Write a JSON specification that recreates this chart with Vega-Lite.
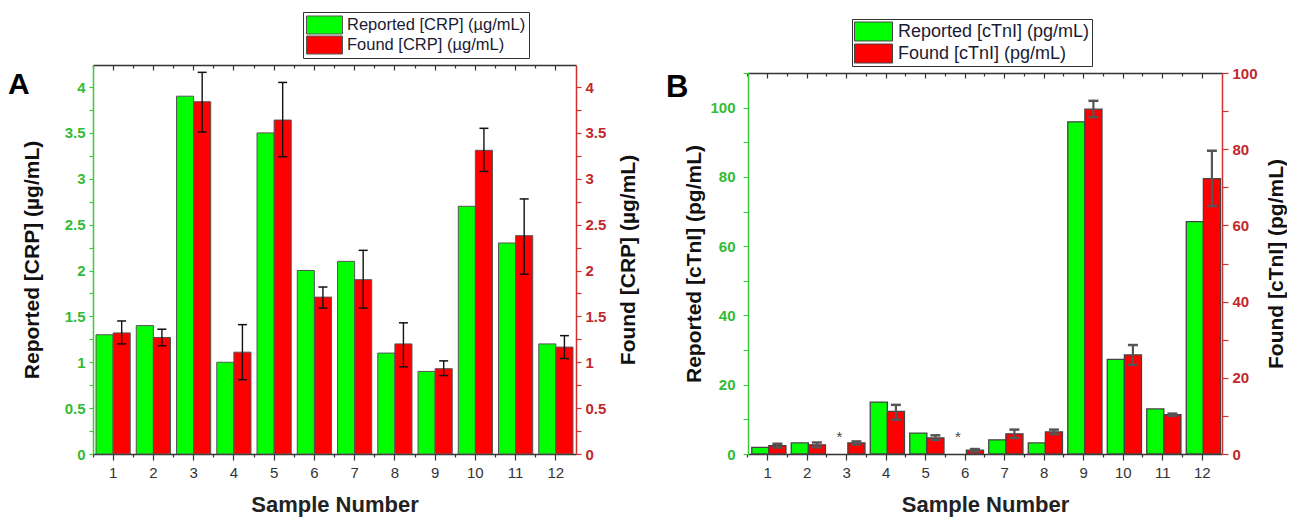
{
  "$schema": "https://vega.github.io/schema/vega-lite/v6.json",
  "background": "white",
  "padding": {"left": 8, "top": 11, "right": 0, "bottom": 0},
  "config": {
    "view": {"stroke": null},
    "font": "Liberation Sans",
    "axis": {"grid": false, "labelFont": "Liberation Sans", "titleFont": "Liberation Sans"},
    "legend": {"labelFont": "Liberation Sans"}
  },
  "center": true,
  "spacing": 27,
  "resolve": {"scale": {"color": "independent"}, "legend": {"color": "independent"}},
  "hconcat": [
    {
      "width": 483,
      "height": 389,
      "title": {"text": "A", "anchor": "start", "frame": "group", "align": "left", "baseline": "alphabetic", "fontSize": 30, "fontWeight": "bold", "font": "Liberation Sans", "color": "#000", "offset": 0, "dx": -85, "dy": 112},
      "data": {"values": [
        {"s": 1, "rep": 1.3, "found": 1.32, "lo": 1.2, "hi": 1.45},
        {"s": 2, "rep": 1.4, "found": 1.27, "lo": 1.18, "hi": 1.36},
        {"s": 3, "rep": 3.9, "found": 3.84, "lo": 3.51, "hi": 4.16},
        {"s": 4, "rep": 1.0, "found": 1.11, "lo": 0.81, "hi": 1.41},
        {"s": 5, "rep": 3.5, "found": 3.64, "lo": 3.24, "hi": 4.05},
        {"s": 6, "rep": 2.0, "found": 1.71, "lo": 1.59, "hi": 1.82},
        {"s": 7, "rep": 2.1, "found": 1.9, "lo": 1.59, "hi": 2.22},
        {"s": 8, "rep": 1.1, "found": 1.2, "lo": 0.95, "hi": 1.43},
        {"s": 9, "rep": 0.9, "found": 0.93, "lo": 0.855, "hi": 1.015},
        {"s": 10, "rep": 2.7, "found": 3.31, "lo": 3.08, "hi": 3.55},
        {"s": 11, "rep": 2.3, "found": 2.38, "lo": 1.96, "hi": 2.78},
        {"s": 12, "rep": 1.2, "found": 1.165, "lo": 1.04, "hi": 1.29}
      ]},
      "encoding": {
        "x": {"field": "s", "type": "ordinal", "scale": {"domain": [1,2,3,4,5,6,7,8,9,10,11,12], "paddingInner": 0.15, "paddingOuter": 0.075}}
      },
      "resolve": {"scale": {"y": "independent"}, "axis": {"x": "independent", "y": "independent"}},
      "layer": [
        {
          "mark": {"type": "bar", "stroke": "#555", "strokeWidth": 1},
          "encoding": {
            "x": {"field": "s", "type": "ordinal", "axis": {"orient": "bottom", "title": ["Sample Number", " "], "titleLineHeight": 8, "labelAngle": 0, "titleFontSize": 22, "titleFontWeight": "bold", "titleColor": "#222", "titlePadding": 14,
                "labelColor": "#333", "labelFontSize": 15, "labelPadding": 5, "domainColor": "#333", "domainWidth": 1.5, "tickColor": "#333", "tickSize": 6, "tickWidth": 1.2}},
            "xOffset": {"datum": "Reported", "type": "nominal", "scale": {"domain": ["Reported", "Found"], "paddingInner": 0, "paddingOuter": 0}},
            "y": {"field": "rep", "type": "quantitative", "scale": {"domain": [0, 4.24], "nice": false, "zero": false},
              "axis": {"orient": "left", "values": [0,0.25,0.5,0.75,1,1.25,1.5,1.75,2,2.25,2.5,2.75,3,3.25,3.5,3.75,4], "format": "~g", "labelExpr": "datum.value % 0.5 === 0 ? datum.label : ''",
                "title": "Reported [CRP] (µg/mL)", "titleFontSize": 21, "titleFontWeight": "bold", "titleColor": "#111", "titlePadding": 22,
                "labelColor": "#33BB33", "labelFontSize": 15, "labelFontWeight": "bold", "labelPadding": 4,
                "domainColor": "#3CCB3C", "domainWidth": 1.5, "tickColor": "#3CCB3C", "tickSize": 4, "tickWidth": 1.2}},
            "color": {"datum": "Reported [CRP] (µg/mL)", "type": "nominal",
              "scale": {"domain": ["Reported [CRP] (µg/mL)", "Found [CRP] (µg/mL)"], "range": ["#00FF00", "#FF0000"]},
              "legend": {"orient": "none", "legendX": 210, "legendY": -53, "title": null, "direction": "vertical",
                "symbolType": "M-1,-0.5H1V0.5H-1Z", "symbolSize": 1296, "symbolStrokeColor": "#444", "symbolStrokeWidth": 1, "symbolOpacity": 1,
                "clipHeight": 20, "rowPadding": 0, "labelFontSize": 16.5, "labelLimit": 400, "labelColor": "#1a1a33", "labelOffset": 4,
                "strokeColor": "#333", "fillColor": "white", "padding": 3}}
          }
        },
        {
          "mark": {"type": "bar", "stroke": "#555", "strokeWidth": 1},
          "encoding": {
            "x": {"field": "s", "type": "ordinal", "axis": {"orient": "top", "title": null, "labels": false, "domainColor": "#333", "domainWidth": 1.5, "tickColor": "#333", "tickSize": -5, "tickWidth": 1.2}},
            "xOffset": {"datum": "Found", "type": "nominal", "scale": {"domain": ["Reported", "Found"], "paddingInner": 0, "paddingOuter": 0}},
            "y": {"field": "found", "type": "quantitative", "scale": {"domain": [0, 4.24], "nice": false, "zero": false},
              "axis": {"orient": "right", "values": [0,0.25,0.5,0.75,1,1.25,1.5,1.75,2,2.25,2.5,2.75,3,3.25,3.5,3.75,4], "format": "~g", "labelExpr": "datum.value % 0.5 === 0 ? datum.label : ''",
                "title": "Found [CRP] (µg/mL)", "titleAngle": 270, "titleFontSize": 21, "titleFontWeight": "bold", "titleColor": "#111", "titlePadding": 33,
                "labelColor": "#C0282D", "labelFontSize": 15, "labelFontWeight": "bold", "labelPadding": 4,
                "domainColor": "#D03030", "domainWidth": 1.5, "tickColor": "#D03030", "tickSize": 5, "tickWidth": 1.2}},
            "color": {"datum": "Found [CRP] (µg/mL)", "type": "nominal"}
          }
        },
        {
          "mark": {"type": "rule", "color": "#111", "strokeWidth": 1.4},
          "encoding": {
            "x": {"field": "s", "type": "ordinal", "axis": {"orient": "bottom", "bandPosition": -0.0882, "title": null, "labels": false, "domain": false, "tickColor": "#333", "tickSize": 3, "tickWidth": 1.2}},
            "xOffset": {"datum": "Found", "type": "nominal", "scale": {"domain": ["Reported", "Found"], "paddingInner": 0, "paddingOuter": 0}},
            "y": {"field": "lo", "type": "quantitative", "scale": {"domain": [0, 4.24], "nice": false, "zero": false}, "axis": null},
            "y2": {"field": "hi"}
          }
        },
        {
          "mark": {"type": "tick", "color": "#111", "size": 9, "thickness": 1.5, "opacity": 1},
          "encoding": {
            "x": {"field": "s", "type": "ordinal", "axis": {"orient": "top", "bandPosition": -0.0882, "title": null, "labels": false, "domain": false, "tickColor": "#333", "tickSize": -3, "tickWidth": 1.2}},
            "xOffset": {"datum": "Found", "type": "nominal", "scale": {"domain": ["Reported", "Found"], "paddingInner": 0, "paddingOuter": 0}},
            "y": {"field": "lo", "type": "quantitative", "scale": {"domain": [0, 4.24], "nice": false, "zero": false}, "axis": null}
          }
        },
        {
          "mark": {"type": "tick", "color": "#111", "size": 9, "thickness": 1.5, "opacity": 1},
          "encoding": {
            "x": {"field": "s", "type": "ordinal", "axis": null},
            "xOffset": {"datum": "Found", "type": "nominal", "scale": {"domain": ["Reported", "Found"], "paddingInner": 0, "paddingOuter": 0}},
            "y": {"field": "hi", "type": "quantitative", "scale": {"domain": [0, 4.24], "nice": false, "zero": false}, "axis": null}
          }
        }
      ]
    },
    {
      "width": 474,
      "height": 381,
      "title": {"text": [" ", "B"], "lineHeight": 59, "anchor": "start", "frame": "group", "align": "left", "baseline": "alphabetic", "fontSize": 31, "fontWeight": "bold", "font": "Liberation Sans", "color": "#000", "offset": 0, "dx": -82, "dy": 109},
      "data": {"values": [
        {"s": 1, "rep": 1.9, "found": 2.2, "lo": 1.7, "hi": 2.7, "note": ""},
        {"s": 2, "rep": 3.2, "found": 2.4, "lo": 1.8, "hi": 3.0, "note": ""},
        {"s": 3, "rep": null, "found": 2.9, "lo": 2.5, "hi": 3.3, "note": "*"},
        {"s": 4, "rep": 15.0, "found": 11.2, "lo": 9.0, "hi": 12.9, "note": ""},
        {"s": 5, "rep": 6.0, "found": 4.2, "lo": 3.7, "hi": 4.9, "note": ""},
        {"s": 6, "rep": null, "found": 1.0, "lo": 0.7, "hi": 1.3, "note": "*"},
        {"s": 7, "rep": 4.1, "found": 5.3, "lo": 4.2, "hi": 6.4, "note": ""},
        {"s": 8, "rep": 3.2, "found": 5.8, "lo": 5.2, "hi": 6.4, "note": ""},
        {"s": 9, "rep": 95.9, "found": 90.5, "lo": 88.4, "hi": 92.7, "note": ""},
        {"s": 10, "rep": 27.3, "found": 26.0, "lo": 23.4, "hi": 28.6, "note": ""},
        {"s": 11, "rep": 13.0, "found": 10.3, "lo": 10.0, "hi": 10.6, "note": ""},
        {"s": 12, "rep": 67.1, "found": 72.3, "lo": 65.1, "hi": 79.6, "note": ""}
      ]},
      "encoding": {
        "x": {"field": "s", "type": "ordinal", "scale": {"domain": [1,2,3,4,5,6,7,8,9,10,11,12], "paddingInner": 0.19, "paddingOuter": 0.095}}
      },
      "resolve": {"scale": {"y": "independent"}, "axis": {"x": "independent", "y": "independent"}},
      "layer": [
        {
          "mark": {"type": "bar", "stroke": "#444", "strokeWidth": 1.3},
          "encoding": {
            "x": {"field": "s", "type": "ordinal", "axis": {"orient": "bottom", "title": "Sample Number", "labelAngle": 0, "titleFontSize": 22, "titleFontWeight": "bold", "titleColor": "#222", "titlePadding": 14,
                "labelColor": "#333", "labelFontSize": 15, "labelPadding": 5, "domainColor": "#333", "domainWidth": 1.5, "tickColor": "#333", "tickSize": 6, "tickWidth": 1.2}},
            "xOffset": {"datum": "Reported", "type": "nominal", "scale": {"domain": ["Reported", "Found"], "paddingInner": 0, "paddingOuter": 0}},
            "y": {"field": "rep", "type": "quantitative", "scale": {"domain": [0, 110], "nice": false, "zero": false},
              "axis": {"orient": "left", "values": [0,10,20,30,40,50,60,70,80,90,100,110], "labelExpr": "datum.value % 20 === 0 && datum.value <= 100 ? datum.label : ''",
                "title": "Reported [cTnI] (pg/mL)", "titleFontSize": 21, "titleFontWeight": "bold", "titleColor": "#111", "titlePadding": 5,
                "labelColor": "#33BB33", "labelFontSize": 15, "labelFontWeight": "bold", "labelPadding": 8,
                "domainColor": "#3CCB3C", "domainWidth": 1.5, "tickColor": "#3CCB3C", "tickSize": 5, "tickWidth": 1.2}},
            "color": {"datum": "Reported [cTnI] (pg/mL)", "type": "nominal",
              "scale": {"domain": ["Reported [cTnI] (pg/mL)", "Found [cTnI] (pg/mL)"], "range": ["#00FF00", "#FF0000"]},
              "legend": {"orient": "none", "legendX": 104, "legendY": -54, "title": null, "direction": "vertical",
                "symbolType": "M-1,-0.5H1V0.5H-1Z", "symbolSize": 1444, "symbolStrokeColor": "#444", "symbolStrokeWidth": 1, "symbolOpacity": 1,
                "clipHeight": 21, "rowPadding": 1, "labelFontSize": 18, "labelLimit": 400, "labelColor": "#1a1a33", "labelOffset": 5,
                "strokeColor": "#333", "fillColor": "white", "padding": 2}}
          }
        },
        {
          "mark": {"type": "bar", "stroke": "#444", "strokeWidth": 1.3},
          "encoding": {
            "x": {"field": "s", "type": "ordinal", "axis": {"orient": "top", "title": null, "labels": false, "domainColor": "#333", "domainWidth": 1.5, "tickColor": "#333", "tickSize": -5, "tickWidth": 1.2}},
            "xOffset": {"datum": "Found", "type": "nominal", "scale": {"domain": ["Reported", "Found"], "paddingInner": 0, "paddingOuter": 0}},
            "y": {"field": "found", "type": "quantitative", "scale": {"domain": [0, 100], "nice": false, "zero": false},
              "axis": {"orient": "right", "values": [0,10,20,30,40,50,60,70,80,90,100], "labelExpr": "datum.value % 20 === 0 ? datum.label : ''",
                "title": "Found [cTnI] (pg/mL)", "titleAngle": 270, "titleFontSize": 21, "titleFontWeight": "bold", "titleColor": "#111", "titlePadding": 29,
                "labelColor": "#C0282D", "labelFontSize": 15, "labelFontWeight": "bold", "labelPadding": 4,
                "domainColor": "#D03030", "domainWidth": 1.5, "tickColor": "#D03030", "tickSize": 6, "tickWidth": 1.2}},
            "color": {"datum": "Found [cTnI] (pg/mL)", "type": "nominal"}
          }
        },
        {
          "mark": {"type": "rule", "color": "#555", "strokeWidth": 2.2},
          "encoding": {
            "x": {"field": "s", "type": "ordinal", "axis": {"orient": "bottom", "bandPosition": -0.1173, "title": null, "labels": false, "domain": false, "tickColor": "#333", "tickSize": 3, "tickWidth": 1.2}},
            "xOffset": {"datum": "Found", "type": "nominal", "scale": {"domain": ["Reported", "Found"], "paddingInner": 0, "paddingOuter": 0}},
            "y": {"field": "lo", "type": "quantitative", "scale": {"domain": [0, 100], "nice": false, "zero": false}, "axis": null},
            "y2": {"field": "hi"}
          }
        },
        {
          "mark": {"type": "tick", "color": "#555", "size": 10, "thickness": 2.5, "opacity": 1},
          "encoding": {
            "x": {"field": "s", "type": "ordinal", "axis": {"orient": "top", "bandPosition": -0.1173, "title": null, "labels": false, "domain": false, "tickColor": "#333", "tickSize": -3, "tickWidth": 1.2}},
            "xOffset": {"datum": "Found", "type": "nominal", "scale": {"domain": ["Reported", "Found"], "paddingInner": 0, "paddingOuter": 0}},
            "y": {"field": "lo", "type": "quantitative", "scale": {"domain": [0, 100], "nice": false, "zero": false}, "axis": null}
          }
        },
        {
          "mark": {"type": "tick", "color": "#555", "size": 10, "thickness": 2.5, "opacity": 1},
          "encoding": {
            "x": {"field": "s", "type": "ordinal", "axis": null},
            "xOffset": {"datum": "Found", "type": "nominal", "scale": {"domain": ["Reported", "Found"], "paddingInner": 0, "paddingOuter": 0}},
            "y": {"field": "hi", "type": "quantitative", "scale": {"domain": [0, 100], "nice": false, "zero": false}, "axis": null}
          }
        },
        {
          "mark": {"type": "text", "fontSize": 15, "color": "#444", "dy": -12, "baseline": "alphabetic"},
          "encoding": {
            "x": {"field": "s", "type": "ordinal", "axis": null},
            "xOffset": {"datum": "Reported", "type": "nominal", "scale": {"domain": ["Reported", "Found"], "paddingInner": 0, "paddingOuter": 0}},
            "y": {"datum": 0, "type": "quantitative", "scale": {"domain": [0, 110], "nice": false, "zero": false}, "axis": null},
            "text": {"field": "note"}
          }
        }
      ]
    }
  ]
}
